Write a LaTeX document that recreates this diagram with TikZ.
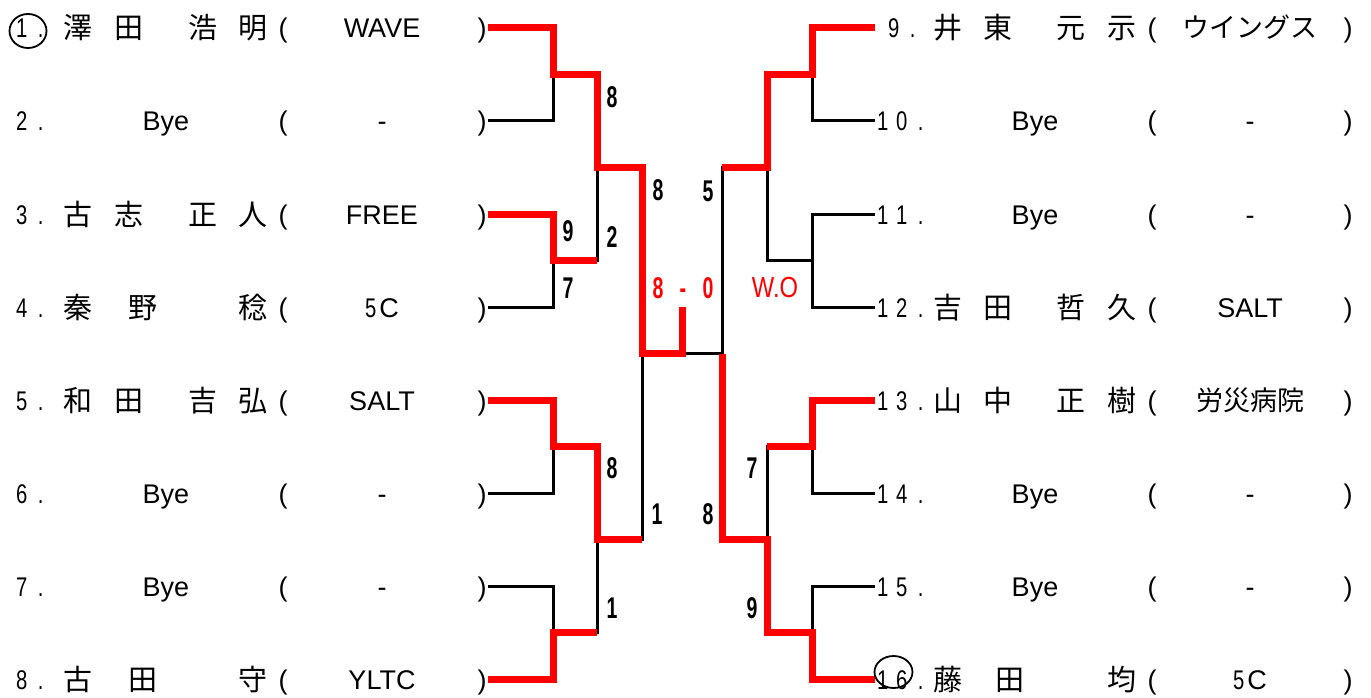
\documentclass[tikz,border=0pt]{standalone}
\usepackage{fontspec}
\setmainfont{Liberation Sans}
\newfontfamily\jp{Noto Sans CJK JP}
\newfontfamily\numfont[FakeStretch=0.75]{Liberation Sans}
\newfontfamily\scorefont[FakeStretch=0.65]{Liberation Sans}
\newfontfamily\wofont[FakeStretch=0.82]{Liberation Sans}
\usetikzlibrary{shapes.geometric}
\newcommand{\cell}[1]{\makebox[19pt]{#1}}
\newcommand{\fivec}{{\numfont 5}\hspace{3pt}C}

\begin{document}
\begin{tikzpicture}[x=1pt, y=-1pt,
    win/.style={draw=red, line width=7pt},
    lose/.style={draw=black, line width=3pt},
    txt/.style={anchor=base, inner sep=0pt, font=\fontsize{27}{30}\selectfont},
    kanji/.style={anchor=base, inner sep=0pt, font=\jp\fontsize{29}{32}\selectfont},
    num/.style={anchor=base west, inner sep=0pt, font=\numfont\fontsize{27}{30}\selectfont},
    score/.style={inner sep=0pt, font=\scorefont\bfseries\fontsize{30}{32}\selectfont},
    ring/.style={draw, ellipse, line width=1.8pt, inner sep=0pt}]
    \useasboundingbox (0,0) rectangle (1371,698);

    % 1. Điểm đầu các nhánh
    \foreach \i in {1,...,8} {
        \coordinate (L\i) at (488, {28+93*(\i-1)});
        \coordinate (R\the\numexpr\i+8\relax) at (875, {28+93*(\i-1)});
    }
    \coordinate (a1) at (553,74.5);  \coordinate (a2) at (553,260.5);
    \coordinate (a3) at (553,446.5); \coordinate (a4) at (553,632.5);
    \coordinate (b1) at (597,167.5); \coordinate (b2) at (597,539.5);
    \coordinate (c1) at (642,353.5);
    \coordinate (g)  at (682,353.5); \coordinate (gt) at (682,307);
    \coordinate (d1) at (812,74.5);  \coordinate (d2) at (812,260.5);
    \coordinate (d3) at (812,446.5); \coordinate (d4) at (812,632.5);
    \coordinate (e1) at (767,167.5); \coordinate (e2) at (767,539.5);
    \coordinate (f1) at (722,353.5);

    % 2. Nhánh thua
    \draw[lose] (L2) -| (a1);  \draw[lose] (L4) -| (a2);
    \draw[lose] (L6) -| (a3);  \draw[lose] (L7) -| (a4);
    \draw[lose] (b1) |- (a2);  \draw[lose] (b2) |- (a4);
    \draw[lose] (c1) |- (b2);  \draw[lose] (g) -- (f1);
    \draw[lose] (R10) -| (d1); \draw[lose] (R11) -| (d2);
    \draw[lose] (R12) -| (d2); \draw[lose] (R14) -| (d3);
    \draw[lose] (R15) -| (d4);
    \draw[lose] (e1) |- (d2);  \draw[lose] (e2) |- (d3);
    \draw[lose] (f1) |- (e1);

    % 3. Nhánh thắng
    \draw[win] (L1) -| (a1) -| (b1) -| (c1) -- (g) -- (gt);
    \draw[win] (L3) -| (a2) -- (b1 |- a2);
    \draw[win] (L5) -| (a3) -| (b2) -- (c1 |- b2);
    \draw[win] (L8) -| (a4) -- (b2 |- a4);
    \draw[win] (R9) -| (d1) -| (e1) -- (f1 |- e1);
    \draw[win] (R13) -| (d3) -- (e2 |- d3);
    \draw[win] (R16) -| (d4) -| (e2) -| (f1);

    % 4. Tỉ số
    \foreach \x/\y/\s [count=\k] in {612/97/8, 658/190/8, 568/231/9, 612/237/2,
        568/288/7, 612/468/8, 657/514/1, 612/608/1,
        708/191/5, 708/514/8, 752/468/7, 752/608/9}
        \node[score] (s\k) at (\x,\y) {\s};
    \node[score, text=red] (fin) at (683,288) {\makebox[25pt]{8}\makebox[25pt]{-}\makebox[25pt]{0}};
    \node[inner sep=0pt, text=red, font=\wofont\fontsize{29}{32}\selectfont] (wo) at (775,288) {W.O};

    % 5. Bên trái
    \foreach \i/\team in {1/WAVE, 2/-, 3/FREE, 4/\fivec, 5/SALT, 6/-, 7/-, 8/YLTC} {
        \node[num] (nl\i) at (12, {28+93*(\i-1)+10}) {\cell{\i}\cell{.}};
        \node[txt] (ol\i) at (283, {28+93*(\i-1)+10}) {(};
        \node[txt] (tl\i) at (382, {28+93*(\i-1)+10}) {\team};
        \node[txt] (cl\i) at (482, {28+93*(\i-1)+10}) {)};
    }
    \foreach \i in {2,6,7}
        \node[txt] (byel\i) at (166, {28+93*(\i-1)+10}) {Bye};
    \foreach \c/\x [count=\k] in {澤/78, 田/129, 浩/203, 明/253}
        \node[kanji] (m1-\k) at (\x,39) {\c};
    \foreach \c/\x [count=\k] in {古/78, 志/129, 正/203, 人/253}
        \node[kanji] (m3-\k) at (\x,225) {\c};
    \foreach \c/\x [count=\k] in {秦/78, 野/143, 稔/253}
        \node[kanji] (m4-\k) at (\x,318) {\c};
    \foreach \c/\x [count=\k] in {和/78, 田/129, 吉/203, 弘/253}
        \node[kanji] (m5-\k) at (\x,411) {\c};
    \foreach \c/\x [count=\k] in {古/78, 田/143, 守/253}
        \node[kanji] (m8-\k) at (\x,690) {\c};
    \node[ring, minimum width=37pt, minimum height=34pt] (ring1) at (28,31) {};

    % 6. Bên phải
    \foreach \i/\team in {9/{\jp ウイングス}, 10/-, 11/-, 12/SALT, 13/{\jp 労災病院}, 14/-, 15/-, 16/\fivec} {
        \node[txt] (or\i) at (1152, {28+93*(\i-9)+10}) {(};
        \node[txt] (tr\i) at (1250, {28+93*(\i-9)+10}) {\team};
        \node[txt] (cr\i) at (1348, {28+93*(\i-9)+10}) {)};
    }
    \node[num] (nr9) at (884,38) {\cell{9}\cell{.}};
    \foreach \i/\d in {10/0, 11/1, 12/2, 13/3, 14/4, 15/5, 16/6}
        \node[num] (nr\i) at (873, {28+93*(\i-9)+10}) {\cell{1}\cell{\d}\cell{.}};
    \foreach \i in {10,11,14,15}
        \node[txt] (byer\i) at (1035, {28+93*(\i-9)+10}) {Bye};
    \foreach \c/\x [count=\k] in {井/948, 東/998, 元/1071, 示/1122}
        \node[kanji] (m9-\k) at (\x,39) {\c};
    \foreach \c/\x [count=\k] in {吉/948, 田/998, 哲/1071, 久/1122}
        \node[kanji] (m12-\k) at (\x,318) {\c};
    \foreach \c/\x [count=\k] in {山/948, 中/998, 正/1071, 樹/1122}
        \node[kanji] (m13-\k) at (\x,411) {\c};
    \foreach \c/\x [count=\k] in {藤/948, 田/1010, 均/1122}
        \node[kanji] (m16-\k) at (\x,690) {\c};
    \node[ring, minimum width=38pt, minimum height=32pt] (ring16) at (893.5,672) {};
\end{tikzpicture}
\end{document}
